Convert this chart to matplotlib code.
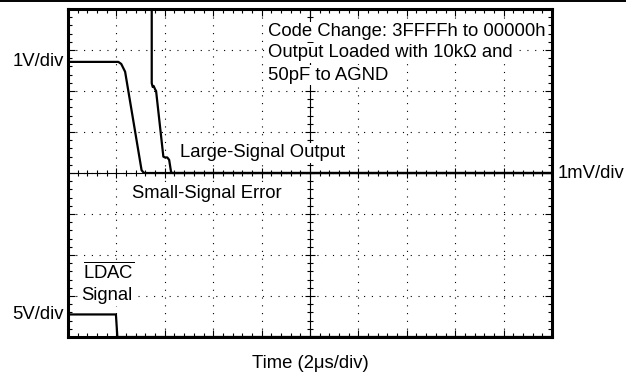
import matplotlib
matplotlib.use("Agg")
import matplotlib.pyplot as plt
from matplotlib.ticker import MultipleLocator
from matplotlib.lines import Line2D

plt.rcParams['font.family'] = ['Liberation Sans', 'DejaVu Sans']
plt.rcParams['mathtext.fontset'] = 'custom'
plt.rcParams['mathtext.rm'] = 'Liberation Sans'

large_t = [0, 1.04, 1.10, 1.18, 1.52, 1.56, 1.60, 10]
large_v = [2.71, 2.71, 2.66, 2.47, 0.07, 0.01, 0.0, 0.0]

error_t = [1.73, 1.73, 1.75, 1.77, 1.80, 1.82, 1.97, 2.00, 2.05, 2.09, 2.13, 2.16, 10]
error_v = [4.3, 2.19, 2.10, 2.12, 2.04, 2.00, 0.40, 0.38, 0.38, 0.32, 0.02, 0.0, 0.0]

ldac_t = [0, 0.99, 1.02, 10]
ldac_v = [-3.45, -3.45, -4.0, -4.0]

W, H = 626, 374
fig = plt.figure(figsize=(W / 100, H / 100), dpi=100)
rect = [68 / W, 1 - 337 / H, 484 / W, 328 / H]

ax = fig.add_axes(rect)
ax.set_xlim(0, 10)
ax.set_ylim(-4, 4)
ax.xaxis.set_major_locator(MultipleLocator(1))
ax.xaxis.set_minor_locator(MultipleLocator(0.2))
ax.yaxis.set_major_locator(MultipleLocator(1))
ax.yaxis.set_minor_locator(MultipleLocator(0.2))
ax.set_axisbelow(True)
ax.grid(True, which='major', color='k', lw=0.8, ls=(0, (1, 6)))
ax.tick_params(which='both', direction='in', top=True, right=True,
               labelbottom=False, labelleft=False, width=0.8, color='k')
ax.tick_params(which='major', length=5)
ax.tick_params(which='minor', length=3)
for s in ax.spines.values():
    s.set_linewidth(2.2)

# center cross with its own ticks; traces and labels go on top of it
cross = fig.add_axes(rect, sharex=ax, sharey=ax)
cross.patch.set_visible(False)
cross.spines['top'].set_visible(False)
cross.spines['right'].set_visible(False)
cross.spines['left'].set_position(('data', 5))
cross.spines['bottom'].set_position(('data', 0))
cross.spines['left'].set_linewidth(0.8)
cross.spines['bottom'].set_linewidth(0.8)
cross.tick_params(which='both', direction='inout', labelbottom=False,
                  labelleft=False, width=0.8, color='k')
cross.tick_params(which='major', length=7)
cross.tick_params(which='minor', length=4.5)

for t, v in [(large_t, large_v), (error_t, error_v), (ldac_t, ldac_v)]:
    cross.plot(t, v, color='k', lw=1.6, solid_joinstyle='round', zorder=4)

fs = 13.3
box = dict(facecolor='white', edgecolor='none', pad=1)
inside = dict(fontsize=fs, va='center', bbox=box, zorder=6)
cross.text(4.13, 3.45, "Code Change: 3FFFFh to 00000h", **inside)
cross.text(4.13, 2.93, "Output Loaded with 10k\u03a9 and", **inside)
cross.text(4.13, 2.39, "50pF to AGND", **inside)
cross.text(2.31, 0.49, "Large-Signal Output", **inside)
cross.text(1.32, -0.51, "Small-Signal Error", **inside)
cross.text(0.31, -2.41, r"$\overline{\mathrm{LDAC}}$", **inside)
cross.text(0.27, -3.0, "Signal", **inside)
cross.text(-0.08, 2.71, "1V/div", fontsize=fs, va='center', ha='right')
cross.text(-0.08, -3.45, "5V/div", fontsize=fs, va='center', ha='right')
cross.text(10.12, 0.0, "1mV/div", fontsize=fs, va='center', ha='left')
fig.text(310 / W, 1 - 363 / H, "Time (2\u03bcs/div)", fontsize=fs,
         ha='center', va='center')

# page rule at the very top
fig.add_artist(Line2D([0, 1], [1 - 1 / H, 1 - 1 / H], color='k', lw=1.4))

fig.savefig("out.png", dpi=100)
